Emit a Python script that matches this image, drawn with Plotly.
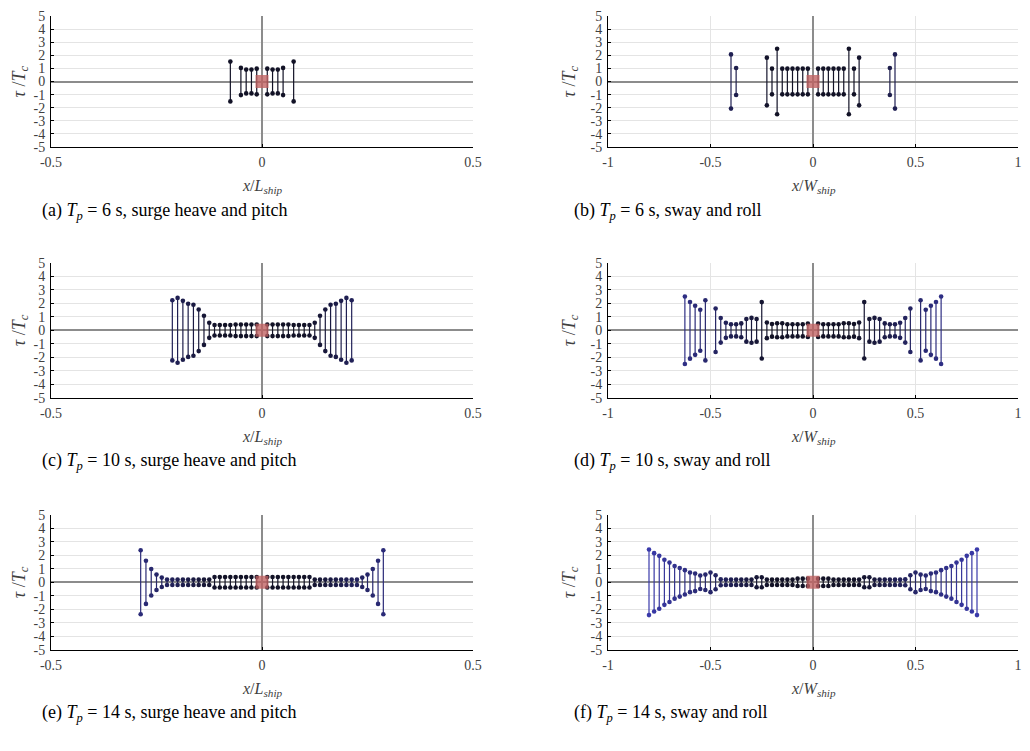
import plotly.graph_objects as go

# ---------------- data ----------------
# (a) Tp = 6 s, surge heave and pitch  (x / L_ship)
a_x = [-0.075, -0.05, -0.0375, -0.025, -0.0125, 0.0125, 0.025, 0.0375, 0.05, 0.075]
a_amp = [1.52, 1.04, 0.91, 0.91, 0.98, 0.98, 0.91, 0.91, 1.04, 1.52]

# (b) Tp = 6 s, sway and roll  (x / W_ship)
b_x = [-0.4, -0.375, -0.225, -0.2, -0.175, -0.15, -0.125, -0.1, -0.075, -0.05, -0.025,
       0.025, 0.05, 0.075, 0.1, 0.125, 0.15, 0.175, 0.2, 0.225, 0.375, 0.4]
b_amp = [2.07, 1.03, 1.82, 0.98, 2.5, 0.98, 0.98, 0.98, 0.98, 0.98, 0.98,
         0.98, 0.98, 0.98, 0.98, 0.98, 0.98, 2.5, 0.98, 1.82, 1.03, 2.07]

# (c) Tp = 10 s, surge heave and pitch
c_x = [-0.2125, -0.2, -0.1875, -0.175, -0.1625, -0.15, -0.1375, -0.125, -0.1125, -0.1,
       -0.0875, -0.075, -0.0625, -0.05, -0.0375, -0.025, -0.0125,
       0.0125, 0.025, 0.0375, 0.05, 0.0625, 0.075, 0.0875, 0.1, 0.1125, 0.125,
       0.1375, 0.15, 0.1625, 0.175, 0.1875, 0.2, 0.2125]
c_amp = [2.23, 2.4, 2.18, 1.97, 1.89, 1.54, 1.08, 0.56, 0.39, 0.39,
         0.39, 0.39, 0.43, 0.43, 0.43, 0.43, 0.43,
         0.43, 0.43, 0.43, 0.43, 0.43, 0.39, 0.39, 0.39, 0.39, 0.56,
         1.08, 1.54, 1.89, 1.97, 2.18, 2.4, 2.23]

# (d) Tp = 10 s, sway and roll
d_x = [-0.625, -0.6, -0.575, -0.55, -0.525, -0.475, -0.45, -0.425, -0.4, -0.375,
       -0.35, -0.325, -0.3, -0.275, -0.25, -0.225, -0.2, -0.175, -0.15, -0.125,
       -0.1, -0.075, -0.05, -0.025,
       0.025, 0.05, 0.075, 0.1, 0.125, 0.15, 0.175, 0.2, 0.225, 0.25,
       0.275, 0.3, 0.325, 0.35, 0.375, 0.4, 0.425, 0.45, 0.475,
       0.525, 0.55, 0.575, 0.6, 0.625]
d_amp = [2.5, 2.1, 1.82, 1.52, 2.23, 1.61, 0.91, 0.56, 0.45, 0.45,
         0.51, 0.84, 0.92, 0.84, 2.09, 0.58, 0.47, 0.52, 0.52, 0.45,
         0.45, 0.45, 0.45, 0.5,
         0.5, 0.45, 0.45, 0.45, 0.45, 0.52, 0.52, 0.47, 0.58, 2.09,
         0.84, 0.92, 0.84, 0.51, 0.45, 0.45, 0.56, 0.91, 1.61,
         2.23, 1.52, 1.82, 2.1, 2.5]

# (e) Tp = 14 s, surge heave and pitch
e_x = [-0.2875, -0.275, -0.2625, -0.25, -0.2375, -0.225, -0.2125, -0.2, -0.1875, -0.175,
       -0.1625, -0.15, -0.1375, -0.125, -0.1125, -0.1, -0.0875, -0.075, -0.0625, -0.05,
       -0.0375, -0.025, -0.0125,
       0.0125, 0.025, 0.0375, 0.05, 0.0625, 0.075, 0.0875, 0.1, 0.1125, 0.125,
       0.1375, 0.15, 0.1625, 0.175, 0.1875, 0.2, 0.2125, 0.225, 0.2375, 0.25,
       0.2625, 0.275, 0.2875]
e_amp = [2.37, 1.6, 0.98, 0.57, 0.35, 0.2, 0.2, 0.2, 0.2, 0.2,
         0.2, 0.2, 0.2, 0.2, 0.39, 0.39, 0.39, 0.39, 0.39, 0.39,
         0.39, 0.39, 0.39,
         0.39, 0.39, 0.39, 0.39, 0.39, 0.39, 0.39, 0.39, 0.39, 0.2,
         0.2, 0.2, 0.2, 0.2, 0.2, 0.2, 0.2, 0.2, 0.35, 0.57,
         0.98, 1.6, 2.37]

# (f) Tp = 14 s, sway and roll
f_x = [-0.8, -0.775, -0.75, -0.725, -0.7, -0.675, -0.65, -0.625, -0.6, -0.575,
       -0.55, -0.525, -0.5, -0.475, -0.45, -0.425, -0.4, -0.375, -0.35, -0.325,
       -0.3, -0.275, -0.25, -0.225, -0.2, -0.175, -0.15, -0.125, -0.1, -0.075,
       -0.05, -0.025,
       0.025, 0.05, 0.075, 0.1, 0.125, 0.15, 0.175, 0.2, 0.225, 0.25,
       0.275, 0.3, 0.325, 0.35, 0.375, 0.4, 0.425, 0.45, 0.475, 0.5,
       0.525, 0.55, 0.575, 0.6, 0.625, 0.65, 0.675, 0.7, 0.725, 0.75,
       0.775, 0.8]
f_amp = [2.43, 2.16, 1.96, 1.67, 1.46, 1.21, 1.06, 0.9, 0.73, 0.65,
         0.5, 0.57, 0.73, 0.52, 0.22, 0.2, 0.2, 0.2, 0.2, 0.2,
         0.2, 0.37, 0.37, 0.2, 0.2, 0.2, 0.2, 0.2, 0.2, 0.27,
         0.27, 0.27,
         0.27, 0.27, 0.27, 0.2, 0.2, 0.2, 0.2, 0.2, 0.2, 0.37,
         0.37, 0.2, 0.2, 0.2, 0.2, 0.2, 0.2, 0.22, 0.52, 0.73,
         0.57, 0.5, 0.65, 0.73, 0.9, 1.06, 1.21, 1.46, 1.67, 1.96,
         2.16, 2.43]

ship_x = [0]
ship_y = [0]

captions = [
    "(a) <i>T<sub>p</sub></i> = 6 s, surge heave and pitch",
    "(b) <i>T<sub>p</sub></i> = 6 s, sway and roll",
    "(c) <i>T<sub>p</sub></i> = 10 s, surge heave and pitch",
    "(d) <i>T<sub>p</sub></i> = 10 s, sway and roll",
    "(e) <i>T<sub>p</sub></i> = 14 s, surge heave and pitch",
    "(f) <i>T<sub>p</sub></i> = 14 s, sway and roll",
]
x_titles = ["<i>x</i>/<i>L<sub>ship</sub></i>", "<i>x</i>/<i>W<sub>ship</sub></i>"]
y_title = "<i>τ</i> /<i>T<sub>c</sub></i>"

y_ticks = [-5, -4, -3, -2, -1, 0, 1, 2, 3, 4, 5]
y_ticktext = ["-5", "-4", "-3", "-2", "-1", "0", "1", "2", "3", "4", "5"]
xL_ticks = [-0.5, 0, 0.5]
xL_ticktext = ["-0.5", "0", "0.5"]
xW_ticks = [-1, -0.5, 0, 0.5, 1]
xW_ticktext = ["-1", "-0.5", "0", "0.5", "1"]

panels = [(a_x, a_amp), (b_x, b_amp), (c_x, c_amp), (d_x, d_amp), (e_x, e_amp), (f_x, f_amp)]

# ---------------- layout geometry (screen pixels) ----------------
# page body has an 8 px margin, so the figure is sized to fit the window
OFF = 8
W, H = 1030 - 2 * OFF, 751 - 2 * OFF
col_x = [(51, 473), (608, 1018)]
row_top = [16.0, 262.8, 514.8]
row_h = [131.0, 135.0, 135.0]
ytitle_px = [20, 570]
caption_px = [40, 572]

FONT = "Liberation Serif, DejaVu Serif, serif"


def px2x(p):
    return (p - OFF) / W


def px2y(p):
    return 1 - (p - OFF) / H


def stem_color(t):
    t = max(0.0, min(1.0, (t - 0.2) / 0.6))
    c0 = (18, 18, 38)
    c1 = (58, 58, 170)
    r, g, b = (round(c0[i] + (c1[i] - c0[i]) * t) for i in range(3))
    return f"rgb({r},{g},{b})"


fig = go.Figure()
annotations = []

for i, (xs, amps) in enumerate(panels):
    r, c = divmod(i, 2)
    n = i + 1
    xa = "x" if n == 1 else f"x{n}"
    ya = "y" if n == 1 else f"y{n}"
    half = 0.5 if c == 0 else 1.0
    for xv, av in zip(xs, amps):
        col = stem_color(abs(xv) / half)
        fig.add_trace(go.Scatter(
            x=[xv, xv], y=[-av, av], mode="lines+markers",
            line=dict(color=col, width=1.2),
            marker=dict(color=col, size=4.6),
            xaxis=xa, yaxis=ya, showlegend=False, hoverinfo="skip",
            cliponaxis=False))
    fig.add_trace(go.Scatter(
        x=ship_x, y=ship_y, mode="markers",
        marker=dict(symbol="square", size=13, color="rgba(192,96,96,0.78)",
                    line=dict(width=0)),
        xaxis=xa, yaxis=ya, showlegend=False, hoverinfo="skip"))

    top = row_top[r]
    bot = top + row_h[r]
    x0, x1 = col_x[c]
    ax_common = dict(showline=True, linecolor="black", linewidth=1,
                     ticks="inside", ticklen=3, tickcolor="black",
                     showgrid=True, gridcolor="#e4e4e4", gridwidth=1,
                     zeroline=True, zerolinecolor="#8c8c8c", zerolinewidth=1.5,
                     tickfont=dict(family=FONT, size=14, color="#404040"),
                     automargin=False, fixedrange=True,
                     ticklabeloverflow="allow")
    xkey = "xaxis" if n == 1 else f"xaxis{n}"
    ykey = "yaxis" if n == 1 else f"yaxis{n}"
    if c == 0:
        xr, tv, tt = [-half, half], xL_ticks, xL_ticktext
    else:
        xr, tv, tt = [-half, half], xW_ticks, xW_ticktext
    fig.update_layout({
        xkey: dict(ax_common, domain=[px2x(x0), px2x(x1)], range=xr,
                   tickmode="array", tickvals=tv, ticktext=tt,
                   anchor=ya, ticklabelstandoff=2),
        ykey: dict(ax_common, domain=[px2y(bot), px2y(top)], range=[-5, 5],
                   tickmode="array", tickvals=y_ticks, ticktext=y_ticktext,
                   anchor=xa, ticklabelstandoff=2),
    })
    # axis titles
    annotations.append(dict(text=x_titles[c], xref="paper", yref="paper",
                            x=px2x((x0 + x1) / 2), y=px2y(bot + 40),
                            xanchor="center", yanchor="middle", showarrow=False,
                            font=dict(family=FONT, size=16, color="#404040")))
    annotations.append(dict(text=y_title, xref="paper", yref="paper",
                            x=px2x(ytitle_px[c]), y=px2y((top + bot) / 2),
                            xanchor="center", yanchor="middle", showarrow=False,
                            textangle=-90,
                            font=dict(family=FONT, size=18, color="#404040")))
    annotations.append(dict(text=captions[i], xref="paper", yref="paper",
                            x=px2x(caption_px[c]), y=px2y(bot + 64),
                            xanchor="left", yanchor="middle", showarrow=False,
                            font=dict(family=FONT, size=18, color="black")))

fig.update_layout(
    width=W, height=H,
    margin=dict(l=0, r=0, t=0, b=0, pad=0, autoexpand=False),
    paper_bgcolor="white", plot_bgcolor="white",
    annotations=annotations,
    showlegend=False,
)

fig.write_html("out.html", config={"displayModeBar": False})
